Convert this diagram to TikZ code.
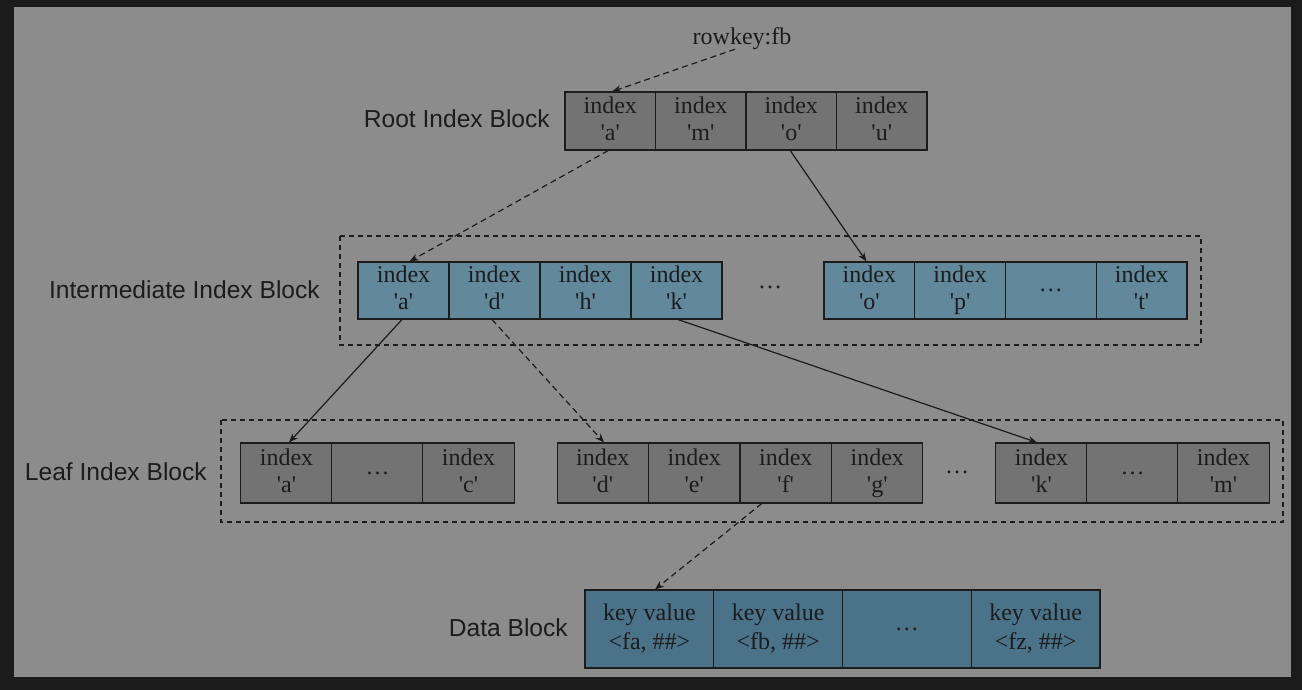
\documentclass[tikz,border=0pt]{standalone}
\usepackage{fontspec}
\setmainfont{Liberation Serif}
\setsansfont{Liberation Sans}
\usetikzlibrary{arrows.meta}
\definecolor{outerbg}{HTML}{1B1B1B}
\definecolor{pagebg}{HTML}{8C8C8C}
\definecolor{graycell}{HTML}{737373}
\definecolor{blueA}{HTML}{62889B}
\definecolor{blueB}{HTML}{4A7289}
\definecolor{ink}{HTML}{1C1C1C}
\newcommand{\qt}[1]{\textquotesingle#1\textquotesingle\vphantom{gp}}
\tikzset{
  cellbox/.style={draw=ink, line width=1.1pt, rectangle, inner sep=0pt, align=center,
    font=\fontsize{24}{27}\selectfont, text=ink},
  rootcell/.style={cellbox, fill=graycell, minimum width=90.5pt, minimum height=58pt},
  intcell/.style={cellbox, fill=blueA, minimum width=91pt, minimum height=57pt},
  leafcell/.style={cellbox, fill=graycell, minimum width=91.3pt, minimum height=60pt},
  datacell/.style={cellbox, fill=blueB, minimum width=128.75pt, minimum height=78pt,
    font=\fontsize{24}{29}\selectfont},
  lbl/.style={font=\sffamily\fontsize{24.6}{27}\selectfont, text=ink, anchor=east, inner sep=0pt},
  dots/.style={font=\fontsize{24}{27}\selectfont, text=ink, inner sep=0pt},
  grp/.style={draw=ink, line width=1.1pt, dash pattern=on 5pt off 4pt},
  conn/.style={draw=ink, line width=1.2pt, -{Stealth[length=9pt,width=7pt]}},
  dconn/.style={conn, dash pattern=on 6pt off 4pt},
}
\begin{document}
\begin{tikzpicture}[x=1pt,y=-1pt]
\useasboundingbox (0,0) rectangle (1302,690);
\fill[outerbg] (0,0) rectangle (1302,690);
\fill[pagebg] (14,7) rectangle (1291,677);

% group frames
\draw[grp] (340,236) rectangle (1201,345);
\draw[grp] (221,420) rectangle (1283,522);

% rowkey
\node[font=\fontsize{24}{27}\selectfont, text=ink, inner sep=1pt] (rk) at (742,39) {rowkey:fb};

% labels
\node[lbl] (lroot) at (550,119) {Root Index Block};
\node[lbl] (lint) at (320,290) {Intermediate Index Block};
\node[lbl] (lleaf) at (207,472) {Leaf Index Block};
\node[lbl] (ldata) at (568,628) {Data Block};

% root
\node[rootcell] (ra) at (610.25,121) {index\\\qt{a}};
\node[rootcell] (rm) at (700.75,121) {index\\\qt{m}};
\node[rootcell] (ro) at (791.25,121) {index\\\qt{o}};
\node[rootcell] (ru) at (881.75,121) {index\\\qt{u}};

% intermediate
\node[intcell] (ia) at (403.5,290.5) {index\\\qt{a}};
\node[intcell] (id) at (494.5,290.5) {index\\\qt{d}};
\node[intcell] (ih) at (585.5,290.5) {index\\\qt{h}};
\node[intcell] (ik) at (676.5,290.5) {index\\\qt{k}};
\node[dots] (idots) at (770,287) {\dots};
\node[intcell, minimum width=90.75pt] (io) at (869.4,290.5) {index\\\qt{o}};
\node[intcell, minimum width=90.75pt] (ip) at (960.1,290.5) {index\\\qt{p}};
\node[intcell, minimum width=90.75pt] (ix) at (1050.9,290.5) {\dots};
\node[intcell, minimum width=90.75pt] (it) at (1141.6,290.5) {index\\\qt{t}};

% leaf
\node[leafcell] (la) at (286.5,473) {index\\\qt{a}};
\node[leafcell] (lx) at (377.5,473) {\dots};
\node[leafcell] (lc) at (468.5,473) {index\\\qt{c}};
\node[leafcell] (ld) at (602.75,473) {index\\\qt{d}};
\node[leafcell] (le) at (694.25,473) {index\\\qt{e}};
\node[leafcell] (lf) at (785.75,473) {index\\\qt{f}};
\node[leafcell] (lg) at (877.25,473) {index\\\qt{g}};
\node[dots] (ldots) at (957,472) {\dots};
\node[leafcell] (lk) at (1041.5,473) {index\\\qt{k}};
\node[leafcell] (ly) at (1132.5,473) {\dots};
\node[leafcell] (lm) at (1223.5,473) {index\\\qt{m}};

% data
\node[datacell] (dfa) at (649.4,629) {key value\\<fa, \#\#>};
\node[datacell] (dfb) at (778.1,629) {key value\\<fb, \#\#>};
\node[datacell] (dx) at (906.9,629) {\dots};
\node[datacell] (dfz) at (1035.6,629) {key value\\<fz, \#\#>};

% connectors
\draw[dconn] ([xshift=-7pt,yshift=2pt]rk.south) -- ([xshift=2pt]ra.north);
\draw[dconn] ([xshift=-2pt]ra.south) -- ([xshift=6pt]ia.north);
\draw[conn] ([xshift=-1pt]ro.south) -- ([xshift=-3pt]io.north);
\draw[conn] ([xshift=-1.5pt]ia.south) -- ([xshift=2.5pt]la.north);
\draw[dconn] ([xshift=-2.5pt]id.south) -- ([xshift=1.25pt]ld.north);
\draw[conn] ([xshift=1.5pt]ik.south) -- ([xshift=-4.5pt]lk.north);
\draw[dconn] ([xshift=-24pt]lf.south) -- ([xshift=5.6pt]dfa.north);
\end{tikzpicture}
\end{document}
